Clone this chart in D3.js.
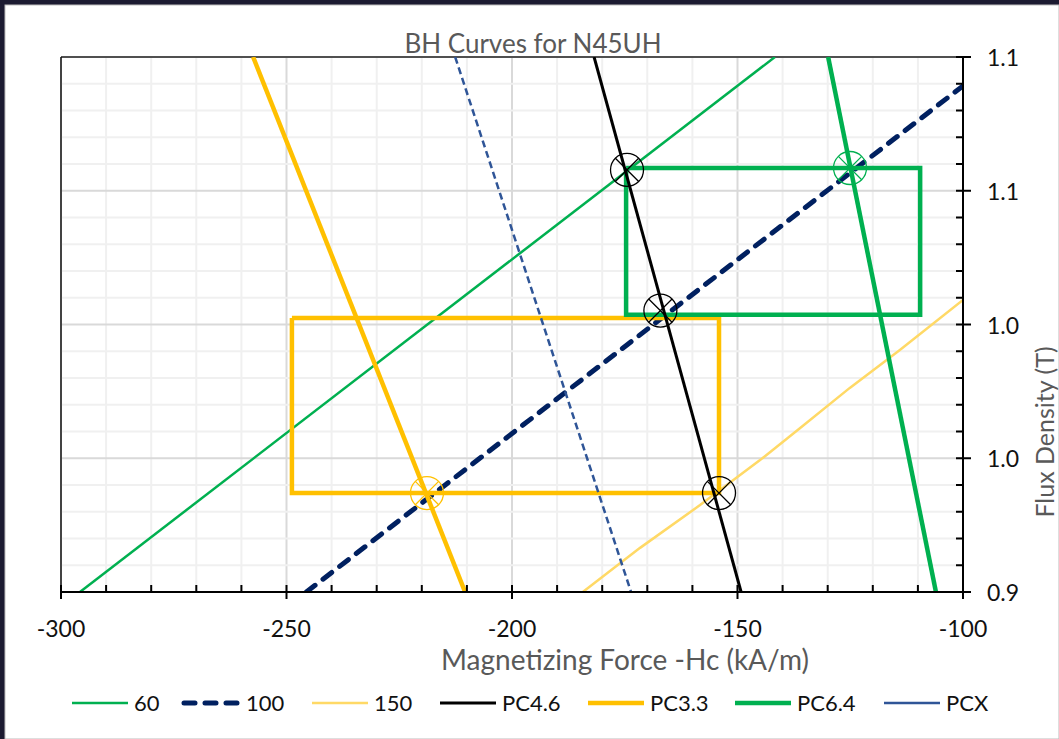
<!DOCTYPE html>
<html><head><meta charset="utf-8">
<script src="https://cdn.jsdelivr.net/npm/d3@7"></script>
<style>
html,body{margin:0;padding:0;background:#fff;}
svg{display:block;font-family:Lato,"Open Sans",sans-serif;}
</style></head><body>
<svg id="c" width="1059" height="739"></svg>
<script>
// ---------- data ----------
const xDomain = [-300, -100];
const yDomain = [0.9, 1.1];
const xTickValues = [-300, -250, -200, -150, -100];
const xTickLabels = ["-300", "-250", "-200", "-150", "-100"];
const yTickValues = [0.9, 0.95, 1.0, 1.05, 1.1];
const yTickLabels = ["0.9", "1.0", "1.0", "1.1", "1.1"];
const seriesNames = ["60", "100", "150", "PC4.6", "PC3.3", "PC6.4", "PCX"];
const curve60    = [[-295.8, 0.9], [-141.7, 1.1]];
const curve100   = [[-245.6, 0.9], [-100, 1.0892]];
const curve150   = [[-184.3, 0.9], [-171.6, 0.9165], [-158.3, 0.9325], [-145.0, 0.9493],
                    [-136.1, 0.9613], [-125.1, 0.9763], [-114.0, 0.9905], [-100, 1.0092]];
const curvePC46  = [[-181.8, 1.1], [-149.2, 0.9]];
const curvePC33  = [[-257.4, 1.1], [-210.4, 0.9]];
const curvePC64  = [[-129.9, 1.1], [-106.0, 0.9]];
const curvePCX   = [[-212.6, 1.1], [-173.6, 0.9]];
const boxPC33    = [[-248.8, 1.0024], [-154.1, 1.0024], [-154.1, 0.9370], [-248.8, 0.9370], [-248.8, 1.0024]];
const boxPC64    = [[-174.7, 1.0585], [-109.5, 1.0585], [-109.5, 1.0036], [-174.7, 1.0036], [-174.7, 1.0585]];
const markersBlack  = [[-174.5, 1.0578], [-167.1, 1.0052], [-154.1, 0.9370]];
const markersGreen  = [[-125.05, 1.0585]];
const markersYellow = [[-218.85, 0.9370]];

// ---------- layout ----------
const svg = d3.select("#c");
const W = 1059, H = 739;
const L = 61, R = 963, T = 57, B = 592;
const x = d3.scaleLinear().domain(xDomain).range([L, R]);
const y = d3.scaleLinear().domain(yDomain).range([B, T]);

// frame
svg.append("rect").attr("width", W).attr("height", H).attr("fill", "#1c1b31");
svg.append("rect").attr("x", 5).attr("y", 5).attr("width", W - 5).attr("height", H - 5)
  .attr("fill", "#fff").attr("stroke", "#bdbdbd").attr("stroke-width", 1);

// gridlines
const g = svg.append("g");
const xMinor = d3.range(-300, -99, 10);
const yMinor = d3.range(0, 21).map(i => 0.9 + i * 0.01);
g.selectAll(".vmin").data(xMinor).enter().append("line")
  .attr("x1", d => x(d)).attr("x2", d => x(d)).attr("y1", T).attr("y2", B)
  .attr("stroke", d => (Math.round(d) % 50 === 0) ? "#d9d9d9" : "#f0f0f0").attr("stroke-width", 2);
g.selectAll(".hmin").data(yMinor).enter().append("line")
  .attr("y1", d => y(d)).attr("y2", d => y(d)).attr("x1", L).attr("x2", R)
  .attr("stroke", (d, i) => (i % 5 === 0) ? "#d9d9d9" : "#f0f0f0").attr("stroke-width", 2);

// plot border (top, left)
svg.append("line").attr("x1", L).attr("x2", R).attr("y1", T).attr("y2", T).attr("stroke", "#222").attr("stroke-width", 1.5);
svg.append("line").attr("x1", L).attr("x2", L).attr("y1", T).attr("y2", B).attr("stroke", "#111").attr("stroke-width", 1.5);

// clip
svg.append("defs").append("clipPath").attr("id", "clip")
  .append("rect").attr("x", L).attr("y", T).attr("width", R - L).attr("height", B - T);
const plot = svg.append("g").attr("clip-path", "url(#clip)");
const line = d3.line().x(d => x(d[0])).y(d => y(d[1]));

const styles = {
  "60":    {data: curve60,   color: "#00B050", w: 2.5},
  "100":   {data: curve100,  color: "#002060", w: 5, dash: "11 10", cap: "round"},
  "150":   {data: curve150,  color: "#FFD966", w: 2.5},
  "PC4.6": {data: curvePC46, color: "#000000", w: 3},
  "PC3.3": {data: curvePC33, color: "#FFC000", w: 4.5},
  "PC6.4": {data: curvePC64, color: "#00B050", w: 4.5},
  "PCX":   {data: curvePCX,  color: "#2F5597", w: 2.5, dash: "7 4"}
};

function drawPath(data, s) {
  plot.append("path").datum(data).attr("d", line)
    .attr("fill", "none").attr("stroke", s.color).attr("stroke-width", s.w)
    .attr("stroke-dasharray", s.dash || null).attr("stroke-linecap", s.cap || "butt")
    .attr("stroke-linejoin", "miter");
}
drawPath(styles["60"].data, styles["60"]);
drawPath(styles["100"].data, styles["100"]);
drawPath(styles["150"].data, styles["150"]);
drawPath(styles["PC3.3"].data, styles["PC3.3"]);
drawPath(boxPC33, styles["PC3.3"]);
drawPath(styles["PC6.4"].data, styles["PC6.4"]);
drawPath(boxPC64, styles["PC6.4"]);
drawPath(styles["PCX"].data, styles["PCX"]);
drawPath(styles["PC4.6"].data, styles["PC4.6"]);

// markers
const MR = 16.5;
function drawMarkers(data, color) {
  const m = svg.append("g").selectAll("g").data(data).enter().append("g")
    .attr("transform", d => `translate(${x(d[0])},${y(d[1])})`);
  m.append("circle").attr("r", MR).attr("fill", "none").attr("stroke", color).attr("stroke-width", 1.3);
  const a = MR * 0.707;
  m.append("path").attr("d", `M${-a},${-a}L${a},${a}M${a},${-a}L${-a},${a}`)
    .attr("stroke", color).attr("stroke-width", 1.3).attr("fill", "none");
}
drawMarkers(markersBlack, "#000");
drawMarkers(markersGreen, "#00B050");
drawMarkers(markersYellow, "#FFC000");

// axes
const ax = svg.append("g");
ax.append("line").attr("x1", L).attr("x2", R).attr("y1", B).attr("y2", B).attr("stroke", "#000").attr("stroke-width", 2);
ax.append("line").attr("x1", R).attr("x2", R).attr("y1", T).attr("y2", B).attr("stroke", "#000").attr("stroke-width", 2);
// x ticks
ax.selectAll(".xt").data(xMinor).enter().append("line")
  .attr("x1", d => x(d)).attr("x2", d => x(d))
  .attr("y1", B - 7).attr("y2", d => (Math.round(d) % 50 === 0) ? B + 7 : B)
  .attr("stroke", "#000").attr("stroke-width", 2);
// y ticks
ax.selectAll(".yt").data(yMinor).enter().append("line")
  .attr("y1", d => y(d)).attr("y2", d => y(d))
  .attr("x1", R - 7).attr("x2", (d, i) => (i % 5 === 0) ? R + 8 : R)
  .attr("stroke", "#000").attr("stroke-width", 2);
// tick labels
ax.selectAll(".xl").data(xTickValues).enter().append("text")
  .attr("x", d => x(d)).attr("y", 628).attr("text-anchor", "middle").attr("dominant-baseline", "central")
  .attr("font-size", 23).attr("fill", "#111").text((d, i) => xTickLabels[i]);
ax.selectAll(".yl").data(yTickValues).enter().append("text")
  .attr("x", 987).attr("y", d => y(d)).attr("text-anchor", "start").attr("dominant-baseline", "central")
  .attr("font-size", 23).attr("fill", "#111").text((d, i) => yTickLabels[i]);

// titles
svg.append("text").attr("x", 533).attr("y", 43).attr("text-anchor", "middle").attr("dominant-baseline", "central")
  .attr("font-size", 26).attr("fill", "#595959").text("BH Curves for N45UH");
svg.append("text").attr("x", 625).attr("y", 659).attr("text-anchor", "middle").attr("dominant-baseline", "central")
  .attr("font-size", 28).attr("fill", "#595959").text("Magnetizing Force -Hc (kA/m)");
svg.append("text").attr("transform", "translate(1044,432) rotate(-90)").attr("text-anchor", "middle")
  .attr("dominant-baseline", "central").attr("font-size", 25).attr("fill", "#595959").text("Flux Density (T)");

// legend
const legX = [72, 184, 312, 440, 588, 735, 884];
const lg = svg.append("g");
seriesNames.forEach((n, i) => {
  const s = styles[n];
  const x0 = legX[i];
  lg.append("line").attr("x1", x0).attr("x2", x0 + 56).attr("y1", 703).attr("y2", 703)
    .attr("stroke", s.color).attr("stroke-width", s.w)
    .attr("stroke-dasharray", n === "100" ? s.dash : null).attr("stroke-linecap", s.cap || "butt");
  lg.append("text").attr("x", x0 + 62).attr("y", 702).attr("dominant-baseline", "central")
    .attr("font-size", 22).attr("fill", "#111").text(n);
});
</script>
</body></html>
